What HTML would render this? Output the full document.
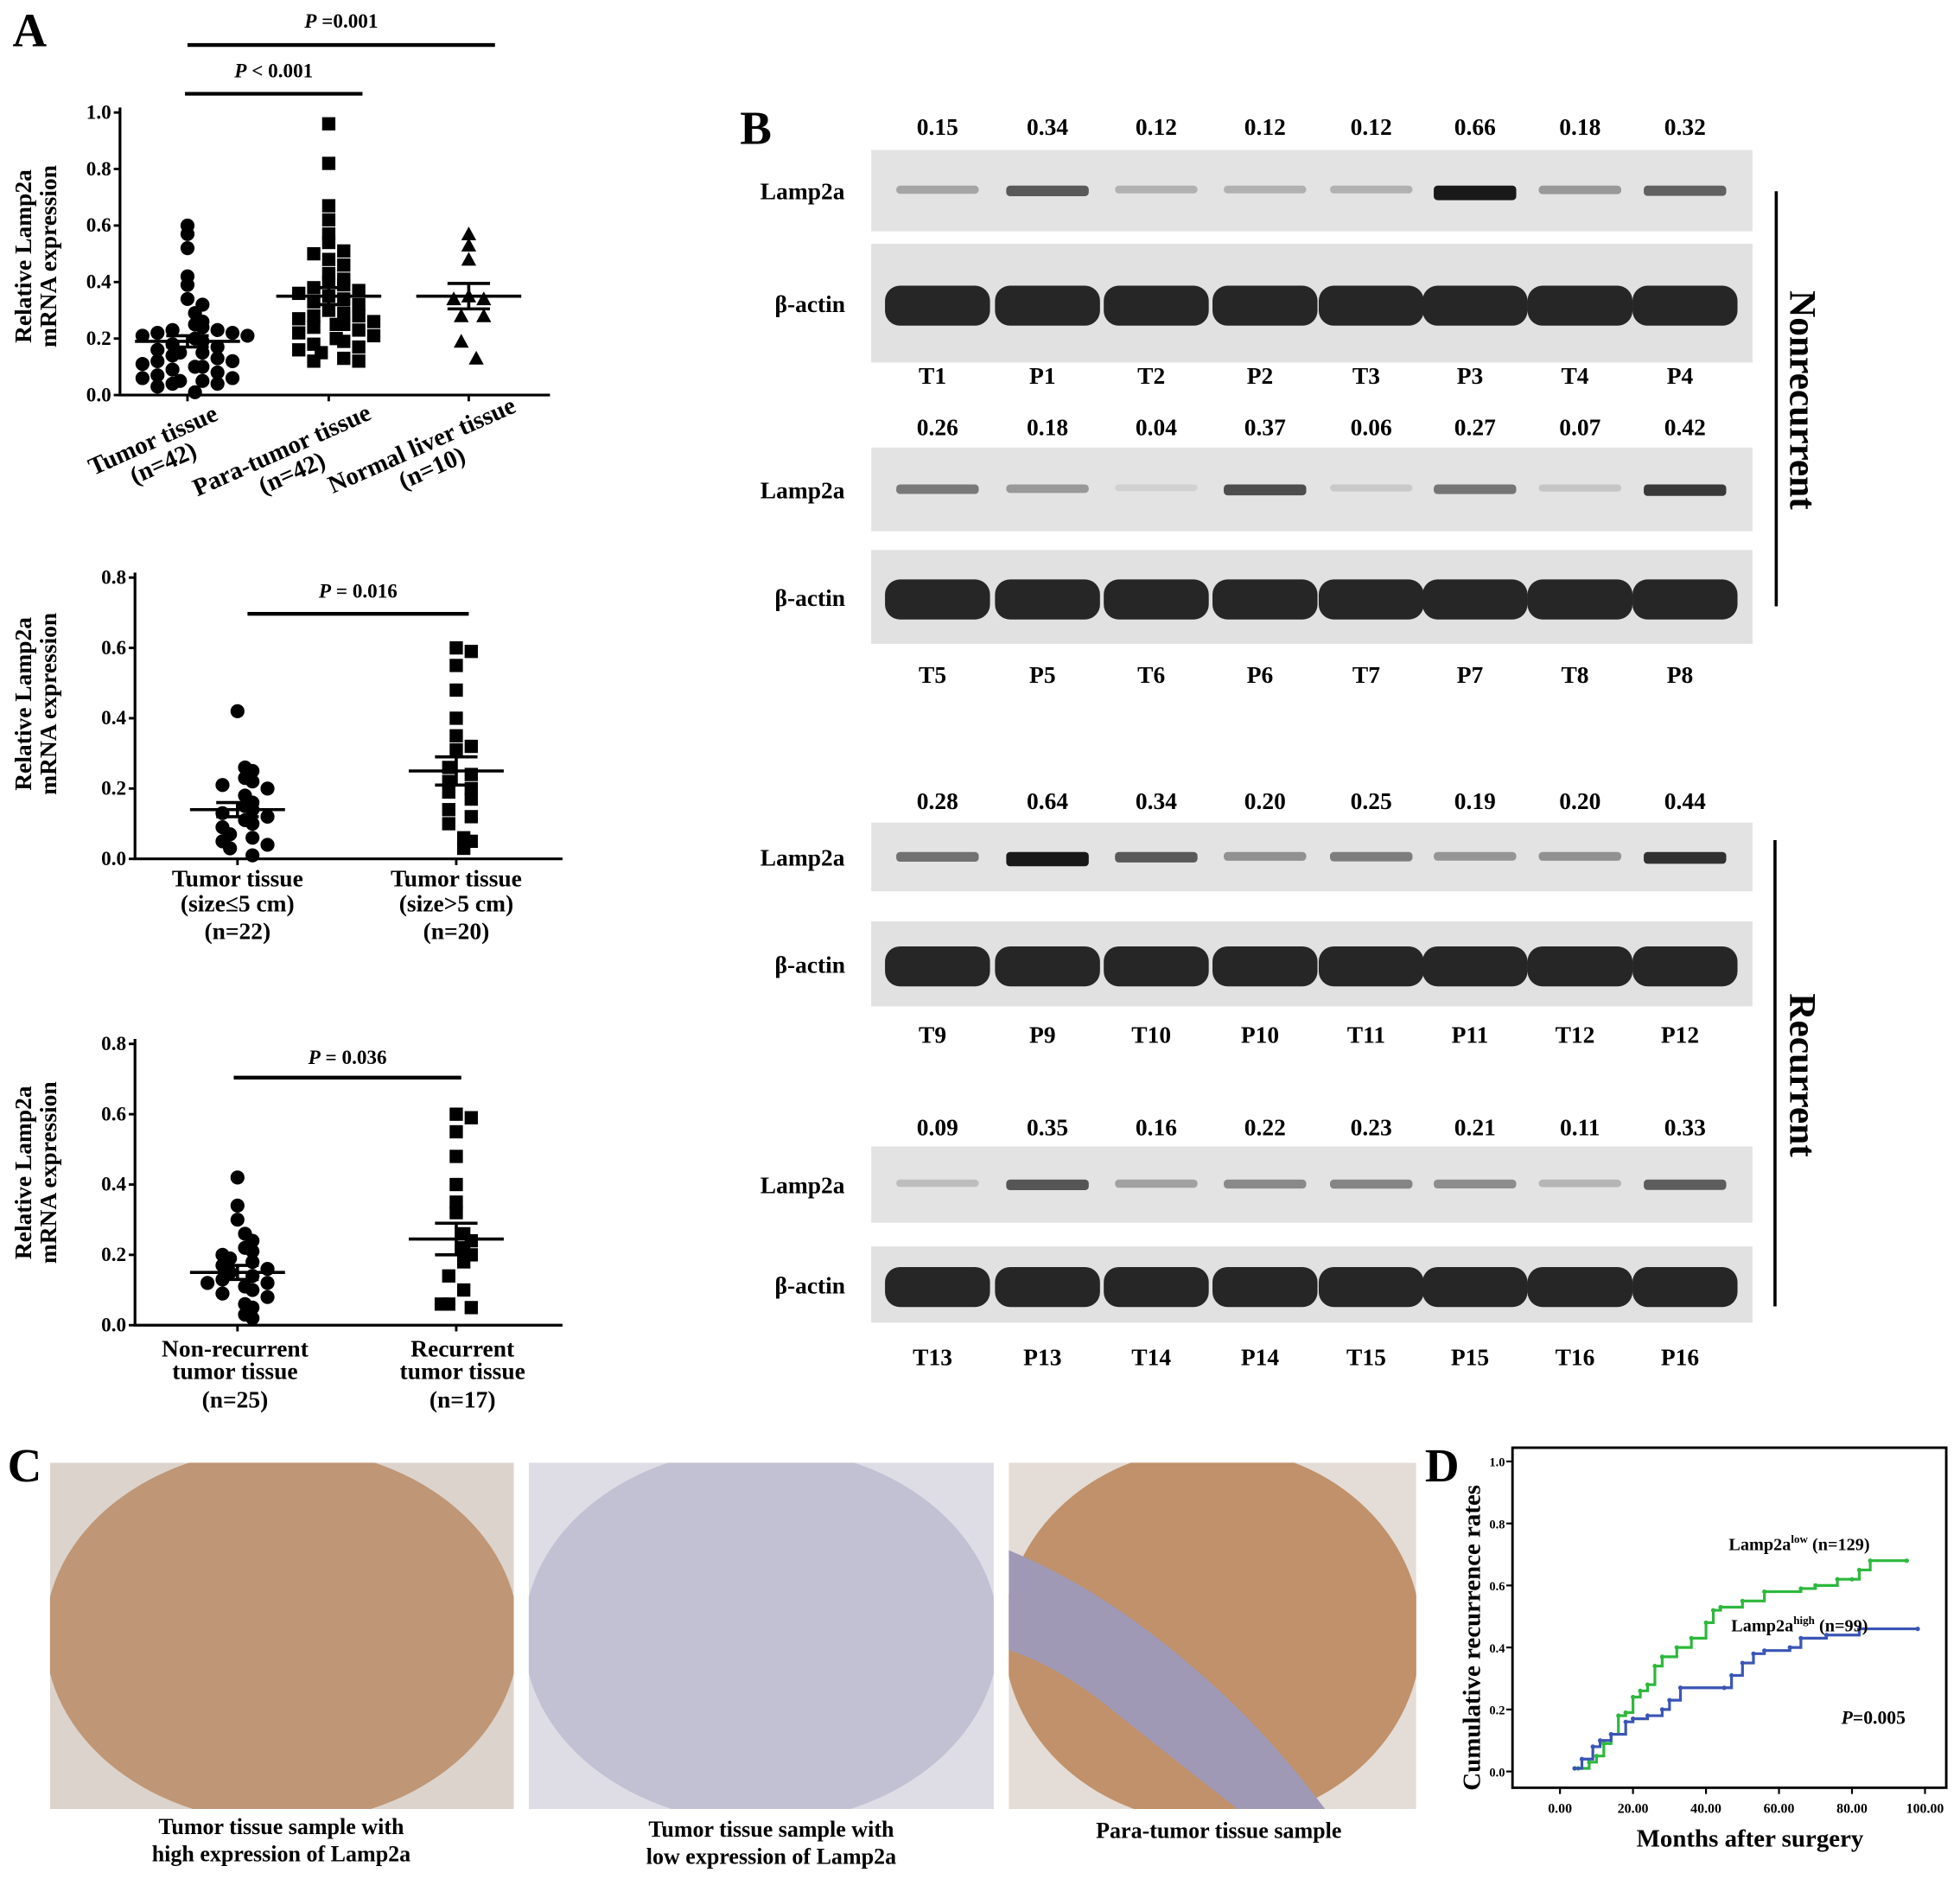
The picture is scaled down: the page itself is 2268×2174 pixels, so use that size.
<!DOCTYPE html>
<html><head><meta charset="utf-8"><style>
html,body{margin:0;padding:0;background:#fff;}
svg{display:block;font-family:"Liberation Serif",serif;font-weight:bold;}
</style></head><body>
<svg id="fig" width="2268" height="2174" viewBox="0 0 1568 1503" preserveAspectRatio="none" xmlns="http://www.w3.org/2000/svg">
<defs>
<clipPath id="cp0"><rect x="40" y="1170" width="371" height="277"/></clipPath>
<clipPath id="cp1"><rect x="423" y="1170" width="372" height="277"/></clipPath>
<clipPath id="cp2"><rect x="807" y="1170" width="326" height="277"/></clipPath>
</defs>
<rect width="1568" height="1503" fill="#fff"/>
<g id="root"></g>
</svg>
<script>
// ---------- DATA ----------
const tumorVals=[0.60,0.57,0.52,0.42,0.39,0.34,0.32,0.29,0.26,0.25,0.24,0.23,0.23,0.22,0.22,0.21,0.21,0.20,0.19,0.18,0.17,0.16,0.15,0.15,0.14,0.13,0.12,0.12,0.11,0.10,0.10,0.09,0.08,0.07,0.06,0.06,0.05,0.05,0.04,0.04,0.03,0.01];
const paraVals=[0.96,0.82,0.67,0.62,0.57,0.54,0.51,0.50,0.48,0.46,0.43,0.41,0.40,0.39,0.38,0.37,0.36,0.35,0.34,0.33,0.32,0.30,0.29,0.28,0.28,0.27,0.26,0.25,0.25,0.24,0.23,0.22,0.21,0.20,0.19,0.18,0.17,0.16,0.15,0.13,0.12,0.12];
const normalVals=[0.57,0.53,0.48,0.35,0.34,0.34,0.28,0.28,0.19,0.13];
const groupMeans=[0.19,0.35,0.35];
const groupSem=[0.02,0.03,0.045];
const smallVals=[0.42,0.26,0.25,0.23,0.22,0.21,0.20,0.18,0.16,0.15,0.14,0.13,0.12,0.11,0.10,0.09,0.07,0.06,0.05,0.04,0.03,0.01];
const largeVals=[0.60,0.59,0.55,0.48,0.40,0.35,0.32,0.31,0.26,0.24,0.22,0.20,0.19,0.17,0.14,0.12,0.10,0.06,0.05,0.03];
const sizeMeans=[0.14,0.25];
const sizeSem=[0.02,0.04];
const nonrecVals=[0.42,0.34,0.30,0.26,0.24,0.22,0.21,0.20,0.19,0.18,0.17,0.16,0.15,0.14,0.13,0.12,0.12,0.11,0.10,0.09,0.08,0.06,0.05,0.03,0.02];
const recVals=[0.60,0.59,0.55,0.48,0.40,0.35,0.32,0.26,0.24,0.22,0.20,0.18,0.14,0.10,0.06,0.05,0.06];
const recMeans=[0.15,0.245];
const recSem=[0.02,0.045];
const ticksA1=[0,0.2,0.4,0.6,0.8,1.0];
const ticksA2=[0,0.2,0.4,0.6,0.8];
const blotVals=[[0.15,0.34,0.12,0.12,0.12,0.66,0.18,0.32],[0.26,0.18,0.04,0.37,0.06,0.27,0.07,0.42],[0.28,0.64,0.34,0.20,0.25,0.19,0.20,0.44],[0.09,0.35,0.16,0.22,0.23,0.21,0.11,0.33]];
const laneNames=[["T1","P1","T2","P2","T3","P3","T4","P4"],["T5","P5","T6","P6","T7","P7","T8","P8"],["T9","P9","T10","P10","T11","P11","T12","P12"],["T13","P13","T14","P14","T15","P15","T16","P16"]];
const lowT=[5,8,10,12,14,16,18,20,22,24,26,28,32,36,40,42,44,50,56,66,70,76,80,82,85,95];
const lowR=[0.01,0.03,0.05,0.09,0.12,0.18,0.19,0.24,0.26,0.28,0.34,0.37,0.40,0.43,0.48,0.52,0.53,0.55,0.58,0.59,0.60,0.62,0.62,0.65,0.68,0.68];
const highT=[4,6,9,11,14,18,20,24,28,30,33,45,47,50,53,56,63,66,73,82,98];
const highR=[0.01,0.04,0.08,0.10,0.12,0.16,0.17,0.18,0.20,0.23,0.27,0.27,0.31,0.35,0.38,0.39,0.40,0.43,0.44,0.46,0.46];
const dTicksX=[0,20,40,60,80,100];
const dTicksY=[0,0.2,0.4,0.6,0.8,1.0];

// ---------- HELPERS ----------
const NS="http://www.w3.org/2000/svg";
const root=document.getElementById('root');
function mk(tag,attrs,parent,txt){const e=document.createElementNS(NS,tag);for(const k in attrs)e.setAttribute(k,attrs[k]);if(txt!==undefined)e.textContent=txt;(parent||root).appendChild(e);return e;}
function T(x,y,s,size,anchor,extra){const a=Object.assign({x:x,y:y,'font-size':size,'text-anchor':anchor||'middle'},extra||{});return mk('text',a,null,s);}

for(const [l,x,y] of [["A",10,37],["B",592,115],["C",6,1185],["D",1140,1185]]){
 const t=T(x,y,l,38,'start');
 
 
}

function yTitle(x,y,lines,size){
 const t=mk('text',{transform:`translate(${x},${y}) rotate(-90)`,'font-size':size,'text-anchor':'middle'});
 lines.forEach((s,i)=>{mk('tspan',{x:0,dy:i?size*1.05:0},t,s);});
 return t;
}

function dotPlot(cfg){
 const y=v=>cfg.y0+(cfg.y1-cfg.y0)*v/cfg.ymax;
 const ax=mk('path',{d:`M${cfg.ax},${cfg.y1-4}V${cfg.y0}H${cfg.axEnd}`,stroke:'#000','stroke-width':2.2,fill:'none'});
 
 
 cfg.ticks.forEach(v=>{
  mk('line',{x1:cfg.ax-5,x2:cfg.ax,y1:y(v),y2:y(v),stroke:'#000','stroke-width':2});
  const t=T(cfg.ax-7,y(v)+5,v.toFixed(1),16,'end');
  
  
 });
 cfg.groups.forEach((g,gi)=>{
  const cx=cfg.xs[gi];
  mk('line',{x1:cx,x2:cx,y1:cfg.y0,y2:cfg.y0+5,stroke:'#000','stroke-width':2});
  const rows={};
  g.vals.forEach(v=>{
   const py=y(v);const r=Math.round(py/11);rows[r]=(rows[r]||0)+1;const k=rows[r]-1;
   const off=(k%2?1:-1)*Math.ceil(k/2)*12;
   const px=cx+off+(k===0&&v<0.3?(g.vals.indexOf(v)%2?6:-6):0);let el;
   if(g.shape==='c') el=mk('circle',{cx:px,cy:py,r:5.6,fill:'#000'});
   else if(g.shape==='s') el=mk('rect',{x:px-5.3,y:py-5.3,width:10.6,height:10.6,fill:'#000'});
   else el=mk('path',{d:`M${px},${py-6}L${px+6},${py+5}L${px-6},${py+5}Z`,fill:'#000'});
   
   
  });
  const m=cfg.means[gi],s=cfg.sem[gi];
  const ml=mk('line',{x1:cx-cfg.mw,x2:cx+cfg.mw,y1:y(m),y2:y(m),stroke:'#000','stroke-width':2.5});
  
  
  const eb=mk('path',{d:`M${cx-17},${y(m+s)}H${cx+17}M${cx},${y(m+s)}V${y(m-s)}M${cx-17},${y(m-s)}H${cx+17}`,stroke:'#000','stroke-width':2.5,fill:'none'});
  
  
 });
}
function sigBar(x1,x2,y,label,ty){
 const l=mk('line',{x1:x1,x2:x2,y1:y,y2:y,stroke:'#000','stroke-width':3});
 
 
 const t=mk('text',{x:(x1+x2)/2,y:ty,'font-size':16,'text-anchor':'middle'});
 mk('tspan',{'font-style':'italic'},t,'P');
 mk('tspan',{},t,label);
 
 
}

// ---------- PANEL A1 ----------
dotPlot({name:'a1',ax:96,axEnd:440,y0:316,y1:90,ymax:1.0,ticks:ticksA1,xs:[150,263,375],means:groupMeans,sem:groupSem,mw:42,
 groups:[{vals:tumorVals,shape:'c'},{vals:paraVals,shape:'s'},{vals:normalVals,shape:'t'}]});
sigBar(150,396,36," =0.001",22);
sigBar(148,290,75," < 0.001",62);
let yt=yTitle(25,205,["Relative Lamp2a","mRNA expression"],19);


[["Tumor tissue","(n=42)",125,358],["Para-tumor tissue","(n=42)",228,366],["Normal liver tissue","(n=10)",340,362]].forEach(([a,b,x,y])=>{
 const t=mk('text',{transform:`translate(${x},${y}) rotate(-24)`,'font-size':20,'text-anchor':'middle'});
 mk('tspan',{x:0,dy:0},t,a);mk('tspan',{x:0,dy:20},t,b);
 
 
});

// ---------- PANEL A2 ----------
dotPlot({name:'a2',ax:108,axEnd:450,y0:687,y1:462,ymax:0.8,ticks:ticksA2,xs:[190,365],means:sizeMeans,sem:sizeSem,mw:38,
 groups:[{vals:smallVals,shape:'c'},{vals:largeVals,shape:'s'}]});
sigBar(198,375,491," = 0.016",478);
yt=yTitle(25,563,["Relative Lamp2a","mRNA expression"],19);


[["Tumor tissue","(size≤5 cm)","(n=22)",190],["Tumor tissue","(size>5 cm)","(n=20)",365]].forEach(([a,b,c,x])=>{
 const t=mk('text',{x:x,y:709,'font-size':19,'text-anchor':'middle'});
 mk('tspan',{x:x,dy:0},t,a);mk('tspan',{x:x,dy:20},t,b);mk('tspan',{x:x,dy:22},t,c);
 
 
});

// ---------- PANEL A3 ----------
dotPlot({name:'a3',ax:108,axEnd:450,y0:1060,y1:835,ymax:0.8,ticks:ticksA2,xs:[190,365],means:recMeans,sem:recSem,mw:38,
 groups:[{vals:nonrecVals,shape:'c'},{vals:recVals,shape:'s'}]});
sigBar(187,369,862," = 0.036",851);
yt=yTitle(25,938,["Relative Lamp2a","mRNA expression"],19);


[["Non-recurrent","tumor tissue","(n=25)",188],["Recurrent","tumor tissue","(n=17)",370]].forEach(([a,b,c,x])=>{
 const t=mk('text',{x:x,y:1085,'font-size':19,'text-anchor':'middle'});
 mk('tspan',{x:x,dy:0},t,a);mk('tspan',{x:x,dy:18},t,b);mk('tspan',{x:x,dy:23},t,c);
 
 
});

// ---------- PANEL B ----------
const blotLayout=[[101,120,185,195,290,300],[341,358,425,440,515,539],[640,658,713,737,805,827],[901,917,978,997,1058,1085]];
const laneX=[750,838,925,1012,1097,1180,1264,1348];
blotVals.forEach((vals,bi)=>{
 const [ny,l0,l1,b0,b1,ly]=blotLayout[bi];
 const r1=mk('rect',{x:697,y:l0,width:705,height:l1-l0,fill:'#e3e3e3'});
 
 
 const r2=mk('rect',{x:697,y:b0,width:705,height:b1-b0,fill:'#e1e1e1'});
 
 
 let t=T(642,(l0+l1)/2+7,"Lamp2a",19);
 
 
 t=T(648,(b0+b1)/2+7,"β-actin",19);
 
 
 vals.forEach((v,i)=>{
  const x=laneX[i];
  t=T(x,ny+7,v.toFixed(2),19);
  
  
  const g=Math.round(225-Math.min(1,v/0.5)*200);
  const b=mk('rect',{x:x-33,y:(l0+l1)/2-4,width:66,height:5+v*10,rx:3,fill:`rgb(${g},${g},${g})`});
  
  
  const a=mk('rect',{x:x-42,y:(b0+b1)/2-14,width:84,height:32,rx:12,fill:'#262626'});
  
  
  t=T(x-4,ly+7,laneNames[bi][i],19);
  
  
 });
});
let vl=mk('line',{x1:1421,x2:1421,y1:153,y2:485,stroke:'#000','stroke-width':2.5});


vl=mk('line',{x1:1420,x2:1420,y1:672,y2:1045,stroke:'#000','stroke-width':2.5});


let rt=mk('text',{transform:'translate(1432,320) rotate(90)','font-size':30,'text-anchor':'middle'},null,'Nonrecurrent');


rt=mk('text',{transform:'translate(1432,860) rotate(90)','font-size':30,'text-anchor':'middle'},null,'Recurrent');



// ---------- PANEL C ----------
const photos=[[40,371,'#dcd3cc','#bf9676'],[423,372,'#dedde6','#c2c1d4'],[807,326,'#e4dcd6','#c0916a']];
photos.forEach(([x,w,bg,fg],i)=>{
 const g=mk('g',{'clip-path':`url(#cp${i})`});
 
 
 mk('rect',{x:x,y:1170,width:w,height:277,fill:bg},g);
 const e=mk('ellipse',{cx:x+w/2,cy:1308,rx:w/2+4,ry:150,fill:fg},g);
 
 
 if(i===2){
  const band=mk('path',{d:'M807,1240 Q880,1270 950,1330 Q1010,1380 1060,1447 L990,1447 Q930,1400 880,1360 Q840,1330 807,1320Z',fill:'#9f99b6'},g);
  
  
 }
});
[["Tumor tissue sample with","high expression of Lamp2a",225,1467],["Tumor tissue sample with","low expression of Lamp2a",617,1469],["Para-tumor tissue sample","",975,1470]].forEach(([a,b,x,y])=>{
 const t=mk('text',{x:x,y:y,'font-size':18,'text-anchor':'middle'});
 mk('tspan',{x:x,dy:0},t,a);if(b)mk('tspan',{x:x,dy:22},t,b);
 
 
});

// ---------- PANEL D ----------
const dx=m=>1248+(1540-1248)*m/100;
const dy=v=>1417+(1169-1417)*v;
const box=mk('rect',{x:1210,y:1158,width:347,height:272,fill:'none',stroke:'#000','stroke-width':2});


dTicksY.forEach(v=>{
 mk('line',{x1:1205,x2:1210,y1:dy(v),y2:dy(v),stroke:'#000','stroke-width':1.5});
 const t=T(1204,dy(v)+4,v.toFixed(1),10,'end');
 
 
});
dTicksX.forEach(v=>{
 mk('line',{x1:dx(v),x2:dx(v),y1:1430,y2:1435,stroke:'#000','stroke-width':1.5});
 const t=T(dx(v),1450,v.toFixed(2),11);
 
 
});
function step(ts,rs,color,name){
 let d=`M${dx(ts[0])},${dy(rs[0])}`;
 for(let i=1;i<ts.length;i++){d+=`H${dx(ts[i])}V${dy(rs[i])}`;}
 const p=mk('path',{d:d,stroke:color,'stroke-width':2.2,fill:'none'});
 
 
 ts.forEach((t,i)=>{const c=mk('circle',{cx:dx(t),cy:dy(rs[i]),r:1.8,fill:color});
  
  });
}
step(lowT,lowR,'#2db83d','lamp2a-low-curve');
step(highT,highR,'#3a55b5','lamp2a-high-curve');
yt=yTitle(1184,1310,["Cumulative recurrence rates"],20);


let xt=T(1400,1477,"Months after surgery",20);


function legend(x,y,sup,n,name){
 const t=mk('text',{x:x,y:y,'font-size':14,'text-anchor':'start'});
 mk('tspan',{},t,'Lamp2a');mk('tspan',{'font-size':9,dy:-6},t,sup);mk('tspan',{dy:6},t,' '+n);
 
 
}
legend(1383,1240,'low','(n=129)','legend-low');
legend(1385,1305,'high','(n=99)','legend-high');
const pt=mk('text',{x:1473,y:1379,'font-size':15,'text-anchor':'start'});
mk('tspan',{'font-style':'italic'},pt,'P');mk('tspan',{},pt,'=0.005');


</script>
</body></html>
